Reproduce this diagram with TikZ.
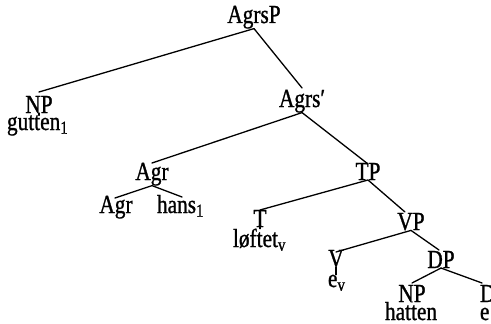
\documentclass[tikz,border=0pt]{standalone}
\usepackage{fontspec}
\setmainfont{Liberation Serif}[FakeStretch=0.82,FakeBold=1]
\begin{document}
\begin{tikzpicture}[x=1pt,y=-1pt,
  lab/.style={inner sep=0pt,outer sep=0pt,anchor=base,font=\fontsize{26}{28}\selectfont},
  wrd/.style={inner sep=0pt,outer sep=0pt,anchor=base west,font=\fontsize{26}{28}\selectfont},
  edge/.style={line width=1.3pt,line cap=round}]
\useasboundingbox (0,0) rectangle (491,324);
\clip (0,0) rectangle (491,324);
% labels
\node[lab] (agrsp) at (254,23) {AgrsP};
\node[lab] (np1) at (39,113) {NP};
\node[wrd] (gutten) at (7,130) {gutten\textsubscript{1}};
\node[wrd] (agrsbar) at (279,107) {Agrs′};
\node[lab] (agr) at (152,180) {Agr};
\node[lab] (agrlow) at (116,213) {Agr};
\node[wrd] (hans) at (157,213) {hans\textsubscript{1}};
\node[lab] (tp) at (368,180) {TP};
\node[lab] (t) at (260,227) {T};
\node[wrd] (loftet) at (233,247) {løftet\textsubscript{v}};
\node[lab] (vp) at (411,230) {VP};
\node[lab] (v) at (336,267) {V};
\node[wrd] (ev) at (328,287) {e\textsubscript{v}};
\node[lab] (dp) at (441,268) {DP};
\node[lab] (np2) at (412,302) {NP};
\node[wrd] (hatten) at (385,320) {hatten};
\node[wrd] (d) at (480,302) {D};
\node[wrd] (ed) at (480,320) {e};
% branches
\draw[edge] (agrsp.south) -- ([yshift=21pt]np1.base);
\draw[edge] (agrsp.south) -- ([yshift=19pt]agrsbar.base);
\draw[edge] (agrsbar.south) -- ([yshift=17pt]agr.base);
\draw[edge] (agrsbar.south) -- ([yshift=16pt]tp.base);
\draw[edge] (agr.south) -- ([xshift=-1pt,yshift=15pt]agrlow.base);
\draw[edge] (agr.south) -- ([xshift=25pt,yshift=16pt]agrlow.base -| hans.west);
\draw[edge] (tp.south) -- ([yshift=17pt]t.base);
\draw[edge] (tp.south) -- ([xshift=-6pt,yshift=18pt]vp.base);
\draw[edge] (vp.south) -- ([yshift=15pt]v.base);
\draw[edge] (vp.south) -- ([xshift=-2pt,yshift=18pt]dp.base);
\draw[edge] (dp.south) -- ([yshift=19pt]np2.base);
\draw[edge] (dp.south) -- ([xshift=2pt,yshift=19pt]d.base west);
% ticks
\draw[edge] (np1.south) -- (np1.south |- gutten.north);
\draw[edge] (t.south) -- (t.south |- loftet.north);
\draw[edge] (v.south) -- (v.south |- ev.north);
\draw[edge] (np2.south) -- (np2.south |- hatten.north);
\end{tikzpicture}
\end{document}
